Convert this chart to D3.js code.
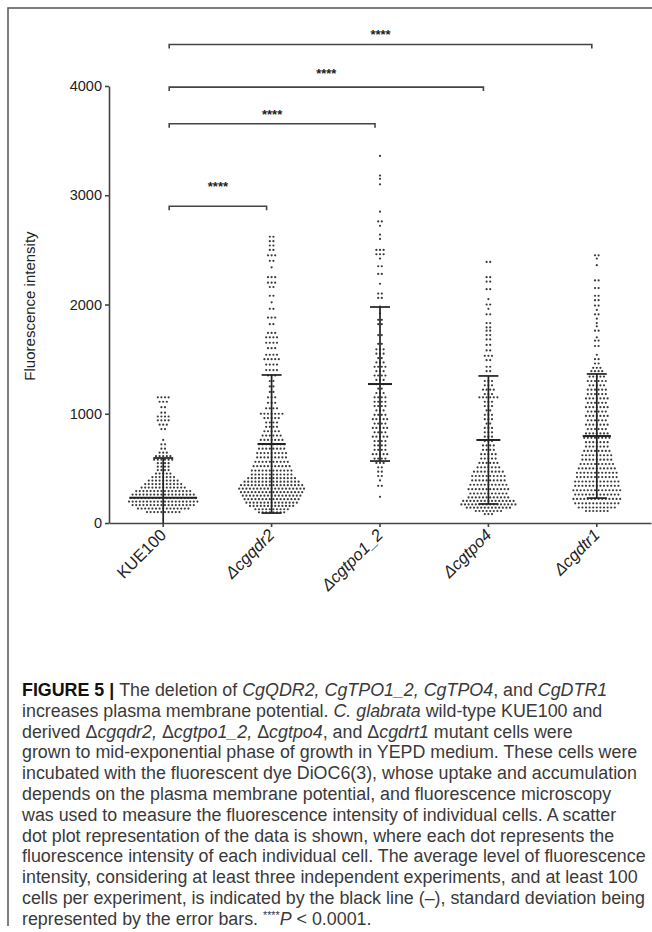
<!DOCTYPE html>
<html>
<head>
<meta charset="utf-8">
<script src="https://cdn.jsdelivr.net/npm/d3@7"></script>
<style>
body { margin: 0; background: #fff; }
svg { display: block; font-family: "Liberation Sans", Arial, Helvetica, sans-serif; }
</style>
</head>
<body>
<script>
const strains = ["KUE100", "Δcgqdr2", "Δcgtpo1_2", "Δcgtpo4", "Δcgdtr1"];
const yTicks = [0, 1000, 2000, 3000, 4000];
const means = [230, 723, 1272, 760, 796];
const sds = [365, 632, 705, 586, 568];

// rows of dots: [intensity, cells in that row]
const kue100Rows = [[100,10],[132,15],[164,18],[196,20],[228,19],[260,18],[292,16],[324,13],[356,11],[388,9],[420,7],[452,5],[484,4],[516,4],[548,4],[580,6],[612,5],[644,3],[680,2],[720,2],[760,1],[860,2],[900,3],[940,4],[975,4],[1010,2],[1060,2],[1110,3],[1150,4]];
const cgqdr2Rows = [[2620,2],[2580,2],[2540,2],[2500,2],[2450,3],[2400,2],[2340,1],[2250,3],[2200,3],[2160,2],[2080,2],[2020,1],[1960,2],[1880,3],[1820,2],[1740,3],[1700,4],[1650,4],[1600,3],[1540,4],[1500,5],[1450,4],[1400,4],[1350,3],[1300,2],[1250,2],[1200,2],[1150,3],[1100,3],[1050,4],[1000,7],[960,5],[920,4],[880,4],[840,5],[800,6],[760,7],[720,8],[680,8],[640,9],[600,9],[560,10],[520,11],[480,12],[444,12],[410,14],[378,16],[346,18],[314,19],[282,18],[250,17],[218,16],[186,15],[156,13],[126,10],[98,8]];
const cgtpo1Rows = [[3360,1],[3180,1],[3150,1],[3100,1],[2850,1],[2760,2],[2720,1],[2640,1],[2600,1],[2500,3],[2460,3],[2420,1],[2350,2],[2280,2],[2190,1],[2100,2],[2060,2],[1980,1],[1920,1],[1860,2],[1820,2],[1720,2],[1640,2],[1590,3],[1550,3],[1510,2],[1470,3],[1430,4],[1390,3],[1350,4],[1310,3],[1270,3],[1230,2],[1190,3],[1150,4],[1110,4],[1070,4],[1030,3],[990,4],[950,5],[910,4],[870,5],[830,4],[790,5],[750,4],[710,4],[670,4],[630,5],[590,4],[550,3],[510,2],[470,2],[430,2],[390,1],[340,2],[240,1]];
const cgtpo4Rows = [[2390,2],[2250,2],[2210,2],[2140,2],[2050,1],[2000,2],[1960,1],[1910,2],[1830,2],[1790,2],[1760,2],[1720,2],[1680,2],[1630,2],[1580,2],[1530,3],[1490,2],[1430,2],[1390,2],[1300,3],[1260,3],[1220,4],[1180,3],[1150,6],[1110,3],[1070,3],[1030,2],[990,3],[950,3],[910,2],[870,3],[830,3],[790,3],[750,3],[710,4],[670,4],[630,5],[590,5],[550,6],[510,7],[470,9],[430,10],[390,10],[350,11],[310,12],[270,11],[234,12],[202,15],[170,16],[140,13],[110,8],[82,3]];
const cgdtr1Rows = [[2450,2],[2420,1],[2360,1],[2220,2],[2150,2],[2080,2],[2040,2],[1990,2],[1950,1],[1910,2],[1870,1],[1830,1],[1800,1],[1760,2],[1700,1],[1670,2],[1620,2],[1540,1],[1500,2],[1460,2],[1420,3],[1390,4],[1340,5],[1300,6],[1260,5],[1220,6],[1180,6],[1140,7],[1100,6],[1060,7],[1020,6],[980,7],[940,6],[900,7],[860,6],[820,7],[780,8],[740,7],[700,7],[660,8],[620,9],[580,9],[540,10],[500,11],[460,12],[420,12],[380,13],[340,13],[300,14],[260,13],[220,14],[180,13],[142,11],[110,7]];
const dotRows = [kue100Rows, cgqdr2Rows, cgtpo1Rows, cgtpo4Rows, cgdtr1Rows];

// significance brackets, all against KUE100
const bracketTo = ["Δcgqdr2", "Δcgtpo1_2", "Δcgtpo4", "Δcgdtr1"];
const bracketLevel = [2900, 3655, 3990, 4380];
const starLevel = [3112, 3771, 4146, 4503];

const captionLines = [
  [["FIGURE 5 | ", "b"], ["The deletion of ", ""], ["CgQDR2, CgTPO1_2, CgTPO4", "i"], [", and ", ""], ["CgDTR1", "i"]],
  [["increases plasma membrane potential. ", ""], ["C. glabrata", "i"], [" wild-type KUE100 and", ""]],
  [["derived Δ", ""], ["cgqdr2,", "i"], [" Δ", ""], ["cgtpo1_2,", "i"], [" Δ", ""], ["cgtpo4", "i"], [", and Δ", ""], ["cgdrt1", "i"], [" mutant cells were", ""]],
  [["grown to mid-exponential phase of growth in YEPD medium. These cells were", ""]],
  [["incubated with the fluorescent dye DiOC6(3), whose uptake and accumulation", ""]],
  [["depends on the plasma membrane potential, and fluorescence microscopy", ""]],
  [["was used to measure the fluorescence intensity of individual cells. A scatter", ""]],
  [["dot plot representation of the data is shown, where each dot represents the", ""]],
  [["fluorescence intensity of each individual cell. The average level of fluorescence", ""]],
  [["intensity, considering at least three independent experiments, and at least 100", ""]],
  [["cells per experiment, is indicated by the black line (–), standard deviation being", ""]],
  [["represented by the error bars. ", ""], ["****", "s"], ["P", "i"], [" < 0.0001.", ""]]
];

const W = 652, H = 932;
const margin = {top: 86, right: 1, bottom: 409, left: 109};
const DOT_GAP = 3.6;

const svg = d3.select("body").append("svg")
  .attr("width", W)
  .attr("height", H);

// frame of the figure panel
svg.append("path")
  .attr("d", "M8,926V8H652")
  .attr("fill", "none")
  .attr("stroke", "#555")
  .attr("stroke-width", 1.5);

const x = d3.scaleBand()
  .domain(strains)
  .range([margin.left, W - margin.right])
  .paddingInner(0);
const y = d3.scaleLinear()
  .domain([0, 4000])
  .range([H - margin.bottom, margin.top]);
const cx = s => x(s) + x.bandwidth() / 2;

// axes
const yAxis = svg.append("g")
  .attr("transform", `translate(${margin.left},0)`)
  .call(d3.axisLeft(y).tickValues(yTicks).tickFormat(d3.format("d"))
    .tickSize(4).tickSizeOuter(0).tickPadding(3));
const xAxis = svg.append("g")
  .attr("transform", `translate(0,${H - margin.bottom})`)
  .call(d3.axisBottom(x).tickSize(4).tickSizeOuter(0).tickFormat(""));
[yAxis, xAxis].forEach(g => {
  g.selectAll("path, line").attr("stroke", "#444").attr("stroke-width", 1.6);
});
yAxis.selectAll("text")
  .attr("font-size", 14.5)
  .attr("fill", "#222");

svg.append("g").selectAll("text")
  .data(strains)
  .enter().append("text")
  .attr("transform", d => `translate(${cx(d) + 4},${H - margin.bottom + 13}) rotate(-45)`)
  .attr("text-anchor", "end")
  .attr("font-size", 16.5)
  .attr("font-style", d => d.startsWith("Δ") ? "italic" : "normal")
  .attr("fill", "#222")
  .text(d => d);

svg.append("text")
  .attr("transform", `translate(35,306) rotate(-90)`)
  .attr("text-anchor", "middle")
  .attr("font-size", 15)
  .attr("fill", "#222")
  .text("Fluorescence intensity");

// dots
strains.forEach((s, gi) => {
  const pts = [];
  dotRows[gi].forEach(([v, n]) => {
    for (let i = 0; i < n; i++) pts.push({v: v, off: (i - (n - 1) / 2) * DOT_GAP});
  });
  svg.append("g").selectAll("circle")
    .data(pts)
    .enter().append("circle")
    .attr("cx", d => cx(s) + d.off)
    .attr("cy", d => y(d.v))
    .attr("r", 1.1)
    .attr("fill", "#3a3a3a");
});

// mean and SD
function rowHalf(rows, v) {
  let best = rows[0];
  rows.forEach(r => { if (Math.abs(r[0] - v) < Math.abs(best[0] - v)) best = r; });
  return (best[1] - 1) / 2 * DOT_GAP + 1.5;
}
const bars = svg.append("g")
  .attr("stroke", "#222")
  .attr("stroke-width", 1.7)
  .attr("fill", "none");
strains.forEach((s, gi) => {
  const m = means[gi], hi = m + sds[gi], lo = Math.max(0, m - sds[gi]);
  const c = cx(s);
  const half = Math.max(12, rowHalf(dotRows[gi], m));
  bars.append("line").attr("x1", c).attr("x2", c).attr("y1", y(hi)).attr("y2", y(lo));
  bars.append("line").attr("x1", c - half).attr("x2", c + half).attr("y1", y(m)).attr("y2", y(m)).attr("stroke-width", 2);
  bars.append("line").attr("x1", c - 10).attr("x2", c + 10).attr("y1", y(hi)).attr("y2", y(hi));
  if (m - sds[gi] > 0) {
    bars.append("line").attr("x1", c - 10).attr("x2", c + 10).attr("y1", y(lo)).attr("y2", y(lo));
  }
});

// significance brackets
const br = svg.append("g");
bracketTo.forEach((s, i) => {
  const x1 = cx(strains[0]) + 6, x2 = cx(s) - 5, yy = y(bracketLevel[i]);
  br.append("path")
    .attr("d", `M${x1},${yy + 4}V${yy}H${x2}V${yy + 4}`)
    .attr("fill", "none")
    .attr("stroke", "#444")
    .attr("stroke-width", 1.6);
  br.append("text")
    .attr("x", (x1 + x2) / 2)
    .attr("y", y(starLevel[i]) + 8)
    .attr("text-anchor", "middle")
    .attr("font-size", 13)
    .attr("font-weight", "bold")
    .attr("fill", "#222")
    .text("****");
});

// caption
const cap = svg.append("g").attr("fill", "#3a3a3a");
const lines = captionLines.map((segs, li) => {
  const t = cap.append("text")
    .attr("x", 22)
    .attr("y", 696 + li * 20.8)
    .attr("font-size", 16);
  segs.forEach(([str, st]) => {
    const ts = t.append("tspan").text(str);
    if (st === "b") ts.attr("font-weight", "bold").attr("fill", "#111");
    if (st === "i") ts.attr("font-style", "italic");
    if (st === "s") ts.attr("font-size", "0.6em").attr("baseline-shift", "super");
  });
  return t;
});
// fit the caption width to the panel like the reference (widest line ~ 624 px)
const widest = d3.max(lines, t => t.node().getComputedTextLength());
const fs = 16 * 624 / widest;
lines.forEach(t => t.attr("font-size", fs));
</script>
</body>
</html>
